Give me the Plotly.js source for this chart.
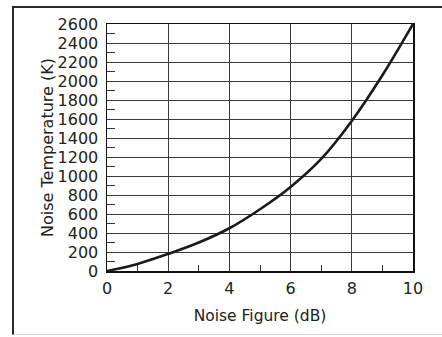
<!DOCTYPE html>
<html>
<head>
<meta charset="utf-8">
<script src="https://cdn.plot.ly/plotly-3.0.1.min.js"></script>
<style>
  html, body { margin: 0; padding: 0; background: #ffffff; }
  #wrap { position: relative; width: 442px; height: 337px; overflow: hidden; }
  #frame { position: absolute; left: 12px; top: 6px; width: 440px; height: 326px;
           border-left: 2px solid #2a2a2a; border-top: 2px solid #2a2a2a; border-bottom: 1px solid #d8d8d8;
           pointer-events: none; z-index: 5; }
  #chart { position: absolute; left: 0; top: 0; width: 442px; height: 337px; }
</style>
</head>
<body>
<div id="wrap">
  <div id="chart"></div>
  <div id="frame"></div>
</div>
<script>
// Noise figure (dB) and corresponding noise temperature (K)
const noiseFigure = [0, 1, 2, 3, 4, 5, 6, 7, 8, 9, 10];
const noiseTemp   = [0, 75, 180, 300, 450, 650, 885, 1180, 1580, 2060, 2600];

const xTitle = "Noise Figure (dB)";
const yTitle = "Noise Temperature (K)";

const fam = "DejaVu Sans, sans-serif";

const trace = {
  x: noiseFigure,
  y: noiseTemp,
  type: "scatter",
  mode: "lines",
  line: { color: "#1a1a1a", width: 2.6, shape: "spline", smoothing: 1 },
  hoverinfo: "skip"
};

const layout = {
  width: 442, height: 337,
  margin: { l: 107, r: 29, t: 24, b: 66 },
  paper_bgcolor: "#ffffff",
  plot_bgcolor: "#ffffff",
  showlegend: false,
  font: { family: fam, size: 16, color: "#222" },
  xaxis: {
    range: [0, 10], dtick: 2, tick0: 0,
    showgrid: true, gridcolor: "#3a3a3a", gridwidth: 1,
    zeroline: false,
    showline: true, linecolor: "#111", linewidth: 1.5, mirror: true,
    ticks: "",
    ticklabelstandoff: 2,
    minor: { dtick: 1, ticks: "inside", ticklen: 6, tickcolor: "#333", tickwidth: 1, showgrid: false },
    tickfont: { family: fam, size: 16, color: "#222" },
    title: { text: xTitle, font: { family: fam, size: 15.5, color: "#222" }, standoff: 13 },
    automargin: false,
    fixedrange: true
  },
  yaxis: {
    range: [0, 2600], dtick: 200, tick0: 0,
    showgrid: true, gridcolor: "#3a3a3a", gridwidth: 1,
    zeroline: false,
    showline: true, linecolor: "#111", linewidth: 1.5, mirror: true,
    ticks: "",
    ticklabelstandoff: 4,
    minor: { dtick: 100, ticks: "inside", ticklen: 8, tickcolor: "#333", tickwidth: 1, showgrid: false },
    tickfont: { family: fam, size: 16, color: "#222" },
    title: { text: yTitle, font: { family: fam, size: 16, color: "#222" }, standoff: 0 },
    automargin: false,
    fixedrange: true
  }
};

Plotly.newPlot("chart", [trace], layout, { staticPlot: true, displayModeBar: false });
</script>
</body>
</html>
